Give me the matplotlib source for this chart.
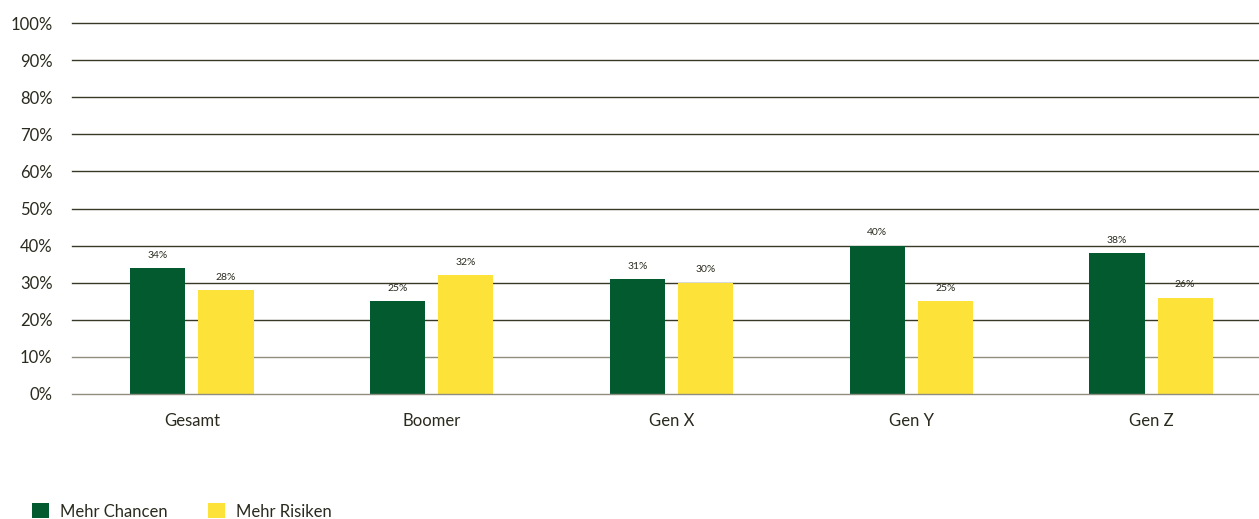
import numpy as np
import matplotlib.pyplot as plt

# Umfragewerte je Generation
kategorien = ["Gesamt", "Boomer", "Gen X", "Gen Y", "Gen Z"]
mehr_chancen = [34, 25, 31, 40, 38]
mehr_risiken = [28, 32, 30, 25, 26]
y_ticks = [0, 10, 20, 30, 40, 50, 60, 70, 80, 90, 100]

gruen = "#045a2f"
gelb = "#fde23a"
text_farbe = "#2b2a1f"

plt.rcParams['font.family'] = ['Lato', 'DejaVu Sans']

fig = plt.figure(figsize=(12.59, 5.19), dpi=100)
ax = fig.add_axes([72 / 1259, 125 / 519, 1199 / 1259, 371 / 519])

x = np.arange(len(kategorien))
breite = 0.23
versatz = 0.142

b1 = ax.bar(x - versatz, mehr_chancen, breite, color=gruen, label="Mehr Chancen", zorder=3)
b2 = ax.bar(x + versatz, mehr_risiken, breite, color=gelb, label="Mehr Risiken", zorder=3)

for balken, werte in [(b1, mehr_chancen), (b2, mehr_risiken)]:
    for rect, w in zip(balken, werte):
        ax.annotate(f"{w}%", (rect.get_x() + rect.get_width() / 2, w),
                    xytext=(0, 6), textcoords="offset points",
                    ha="center", va="bottom", fontsize=7.5, color=text_farbe)

# horizontale Linien, die unteren etwas heller
for t in y_ticks:
    farbe = "#8f8c80" if t <= 10 else "#3a3826"
    ax.axhline(t, color=farbe, linewidth=1.0, zorder=2 if t else 4, clip_on=False)

ax.set_xlim(-0.5, 4.5)
ax.set_ylim(0, 100)
ax.set_yticks(y_ticks)
ax.set_yticklabels([f"{t}%" for t in y_ticks], fontsize=12, color=text_farbe)
ax.set_xticks(x)
ax.set_xticklabels(kategorien, fontsize=12, color=text_farbe)
ax.tick_params(axis="both", length=0)
ax.tick_params(axis="y", pad=14)
ax.tick_params(axis="x", pad=14)
for s in ax.spines.values():
    s.set_visible(False)

fig.legend(handles=[b1, b2], loc="lower left", bbox_to_anchor=(17 / 1259, -0.03),
           ncol=2, frameon=False, fontsize=12, handlelength=1.0, handleheight=1.0,
           columnspacing=2.4, handletextpad=0.7, labelcolor=text_farbe)

fig.savefig("out.png", dpi=100)
